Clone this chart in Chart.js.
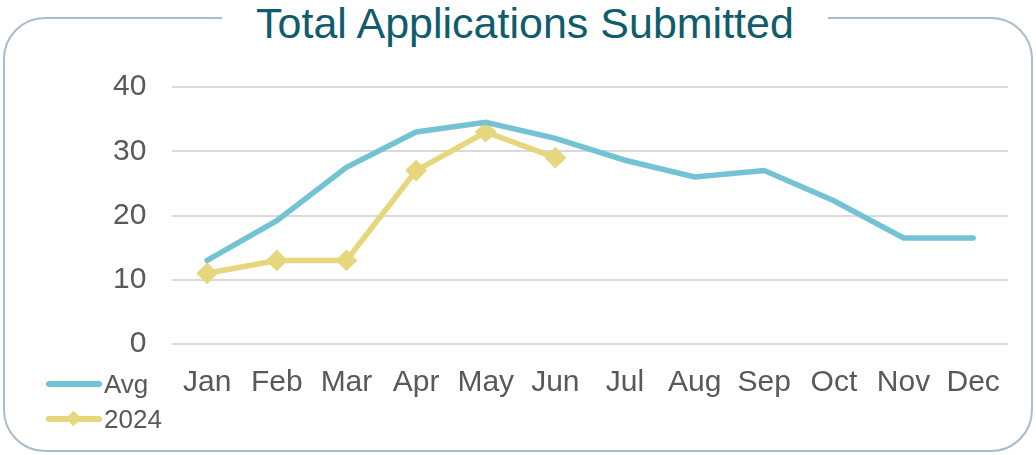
<!DOCTYPE html>
<html>
<head>
<meta charset="utf-8">
<script src="https://cdn.jsdelivr.net/npm/chart.js@4.4.1/dist/chart.umd.min.js"></script>
<style>
  html, body { margin: 0; padding: 0; background: #fff; }
  #wrap { position: relative; width: 1036px; height: 455px; overflow: hidden; font-family: Arial, "Liberation Sans", sans-serif; }
  #frame { position: absolute; left: 3px; top: 17px; width: 1026px; height: 431px; border: 2px solid #a9bccb; border-radius: 42px; }
  #title { position: absolute; left: 14px; right: 0; top: 0; text-align: center; }
  #title span { background: #fff; padding: 0 34px; color: #0f5c6b; font-size: 43px; line-height: 46px; }
  #chart { position: absolute; left: 0; top: 0; }
  #legend { position: absolute; left: 46px; top: 368px; color: #595959; font-size: 26px; }
  .item { position: relative; height: 35px; line-height: 32px; padding-left: 58px; }
  .item .ln { position: absolute; left: 0; top: 13px; width: 56px; height: 6px; border-radius: 3px; }
  .item .dm { position: absolute; left: 22px; top: 10px; width: 11px; height: 11px; transform: rotate(45deg); }
</style>
</head>
<body>
<div id="wrap">
  <div id="frame"></div>
  <div id="title"><span>Total Applications Submitted</span></div>
  <canvas id="chart" width="1036" height="455"></canvas>
  <div id="legend"></div>
</div>
<script>
var months = ["Jan", "Feb", "Mar", "Apr", "May", "Jun", "Jul", "Aug", "Sep", "Oct", "Nov", "Dec"];
var avgValues = [13, 19.2, 27.5, 33, 34.5, 32, 28.6, 26, 27, 22.3, 16.5, 16.5];
var values2024 = [11, 13, 13, 27, 33, 29];
var yTicks = [0, 10, 20, 30, 40];

var avgColor = '#74c3d4';
var yrColor = '#e6d67c';

var ctx = document.getElementById('chart').getContext('2d');
var chart = new Chart(ctx, {
    type: 'line',
    data: {
        labels: months,
        datasets: [{
            label: 'Avg',
            data: avgValues,
            borderColor: avgColor,
            borderWidth: 5.5,
            borderCapStyle: 'round',
            pointRadius: 0,
            tension: 0
        }, {
            label: '2024',
            data: values2024,
            borderColor: yrColor,
            backgroundColor: yrColor,
            borderWidth: 5.5,
            borderCapStyle: 'round',
            pointStyle: 'rectRot',
            pointRadius: 7,
            tension: 0
        }]
    },
    options: {
        responsive: false,
        animation: false,
        layout: { padding: { left: 87, right: 28, top: 87, bottom: 41 } },
        plugins: { legend: { display: false }, tooltip: { enabled: false } },
        scales: {
            x: {
                offset: true,
                grid: { display: false, offset: true },
                border: { display: false },
                ticks: { color: '#595959', font: { family: 'Arial', size: 30 }, padding: 13 }
            },
            y: {
                min: 0,
                max: 40,
                afterBuildTicks: function (axis) { axis.ticks = yTicks.map(function (v) { return { value: v }; }); },
                grid: { color: '#d9d9d9', lineWidth: 2, drawTicks: false },
                border: { display: false },
                ticks: { color: '#595959', font: { family: 'Arial', size: 30 }, padding: 26 }
            }
        }
    }
});

// legend built from the datasets
var legend = document.getElementById('legend');
chart.data.datasets.forEach(function (ds) {
    var row = document.createElement('div');
    row.className = 'item';
    var html = '<span class="ln" style="background:' + ds.borderColor + '"></span>';
    if (ds.pointRadius) html += '<span class="dm" style="background:' + ds.borderColor + '"></span>';
    row.innerHTML = html + ds.label;
    legend.appendChild(row);
});
</script>
</body>
</html>
